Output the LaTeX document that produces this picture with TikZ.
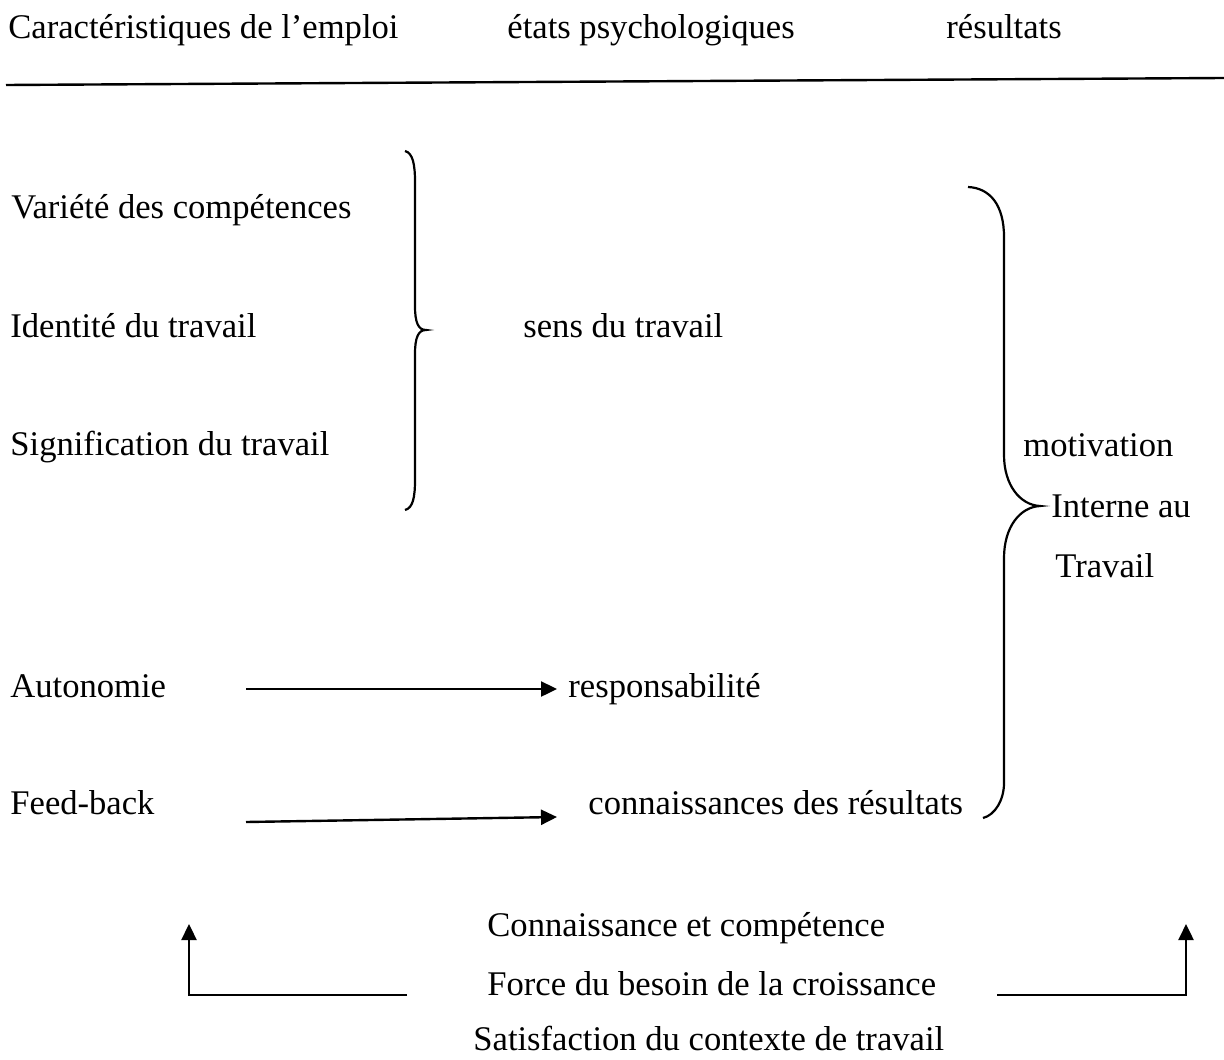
\documentclass[tikz,border=0pt]{standalone}
\usepackage{fontspec}
\setmainfont{Liberation Serif}
\usetikzlibrary{arrows.meta}
\tikzset{
  lbl/.style={anchor=base west, inner sep=0pt, font=\fontsize{17.3}{20}\selectfont},
  conn/.style={line width=1.2pt, -{Triangle[length=8pt,width=7.5pt]}},
  plain/.style={line width=1.2pt},
  brace/.style={line width=1.1pt}
}
\begin{document}
\begin{tikzpicture}[x=0.5pt,y=-0.5pt]
\useasboundingbox[fill=white] (0,0) rectangle (1224,1059);
% headers
\node[lbl] (h1) at (8,39) {Caractéristiques de l’emploi};
\node[lbl] (h2) at (507,39) {états psychologiques};
\node[lbl] (h3) at (946,39) {résultats};
\coordinate (lineL) at (6,85);
\coordinate (lineR) at (1224,78);
\draw[plain] (lineL) -- (lineR);
% left column
\node[lbl] (var) at (11,219) {Variété des compétences};
\node[lbl] (ident) at (10,337) {Identité du travail};
\node[lbl] (sig) at (10,455) {Signification du travail};
\node[lbl] (auto) at (10,697) {Autonomie};
\node[lbl] (feed) at (10,814) {Feed-back};
% middle
\node[lbl] (sens) at (523,337) {sens du travail};
\node[lbl] (resp) at (568,697) {responsabilité};
\node[lbl] (conn) at (588,814) {connaissances des résultats};
% right
\node[lbl] (motiv) at (1023,456) {motivation};
\node[lbl] (intern) at (1051,517) {Interne au};
\node[lbl] (trav) at (1055,577) {Travail};
% bottom
\node[lbl] (b1) at (487,936) {Connaissance et compétence};
\node[lbl] (b2) at (487,995) {Force du besoin de la croissance};
\node[lbl] (b3) at (473,1050) {Satisfaction du contexte de travail};
% brace 1
\draw[brace] (405,151) .. controls (413,153) and (415,165) .. (415,182) -- (415,306)
  .. controls (415,322) and (418,330) .. (426,330)
  .. controls (418,330) and (415,338) .. (415,354) -- (415,480)
  .. controls (415,497) and (413,508) .. (405,510);
% brace 2
\draw[brace] (968,187) .. controls (990,188) and (1004,205) .. (1004,237) -- (1004,455)
  .. controls (1004,485) and (1020,505) .. (1040,506)
  .. controls (1020,507) and (1004,527) .. (1004,558) -- (1004,783)
  .. controls (1004,800) and (995,815) .. (983,818);
% arrows
\coordinate (a1s) at (246,689);
\coordinate (a1e) at (557,689);
\coordinate (a2s) at (246,822);
\coordinate (a2e) at (557,817);
\draw[conn] (a1s) -- (a1e);
\draw[conn] (a2s) -- (a2e);
\coordinate (lbs) at (407,995);
\coordinate (lbc) at (189,995);
\coordinate (lbe) at (189,924);
\draw[conn] (lbs) -- (lbc) -- (lbe);
\coordinate (rbs) at (997,995);
\coordinate (rbc) at (1186,995);
\coordinate (rbe) at (1186,924);
\draw[conn] (rbs) -- (rbc) -- (rbe);
\end{tikzpicture}
\end{document}
